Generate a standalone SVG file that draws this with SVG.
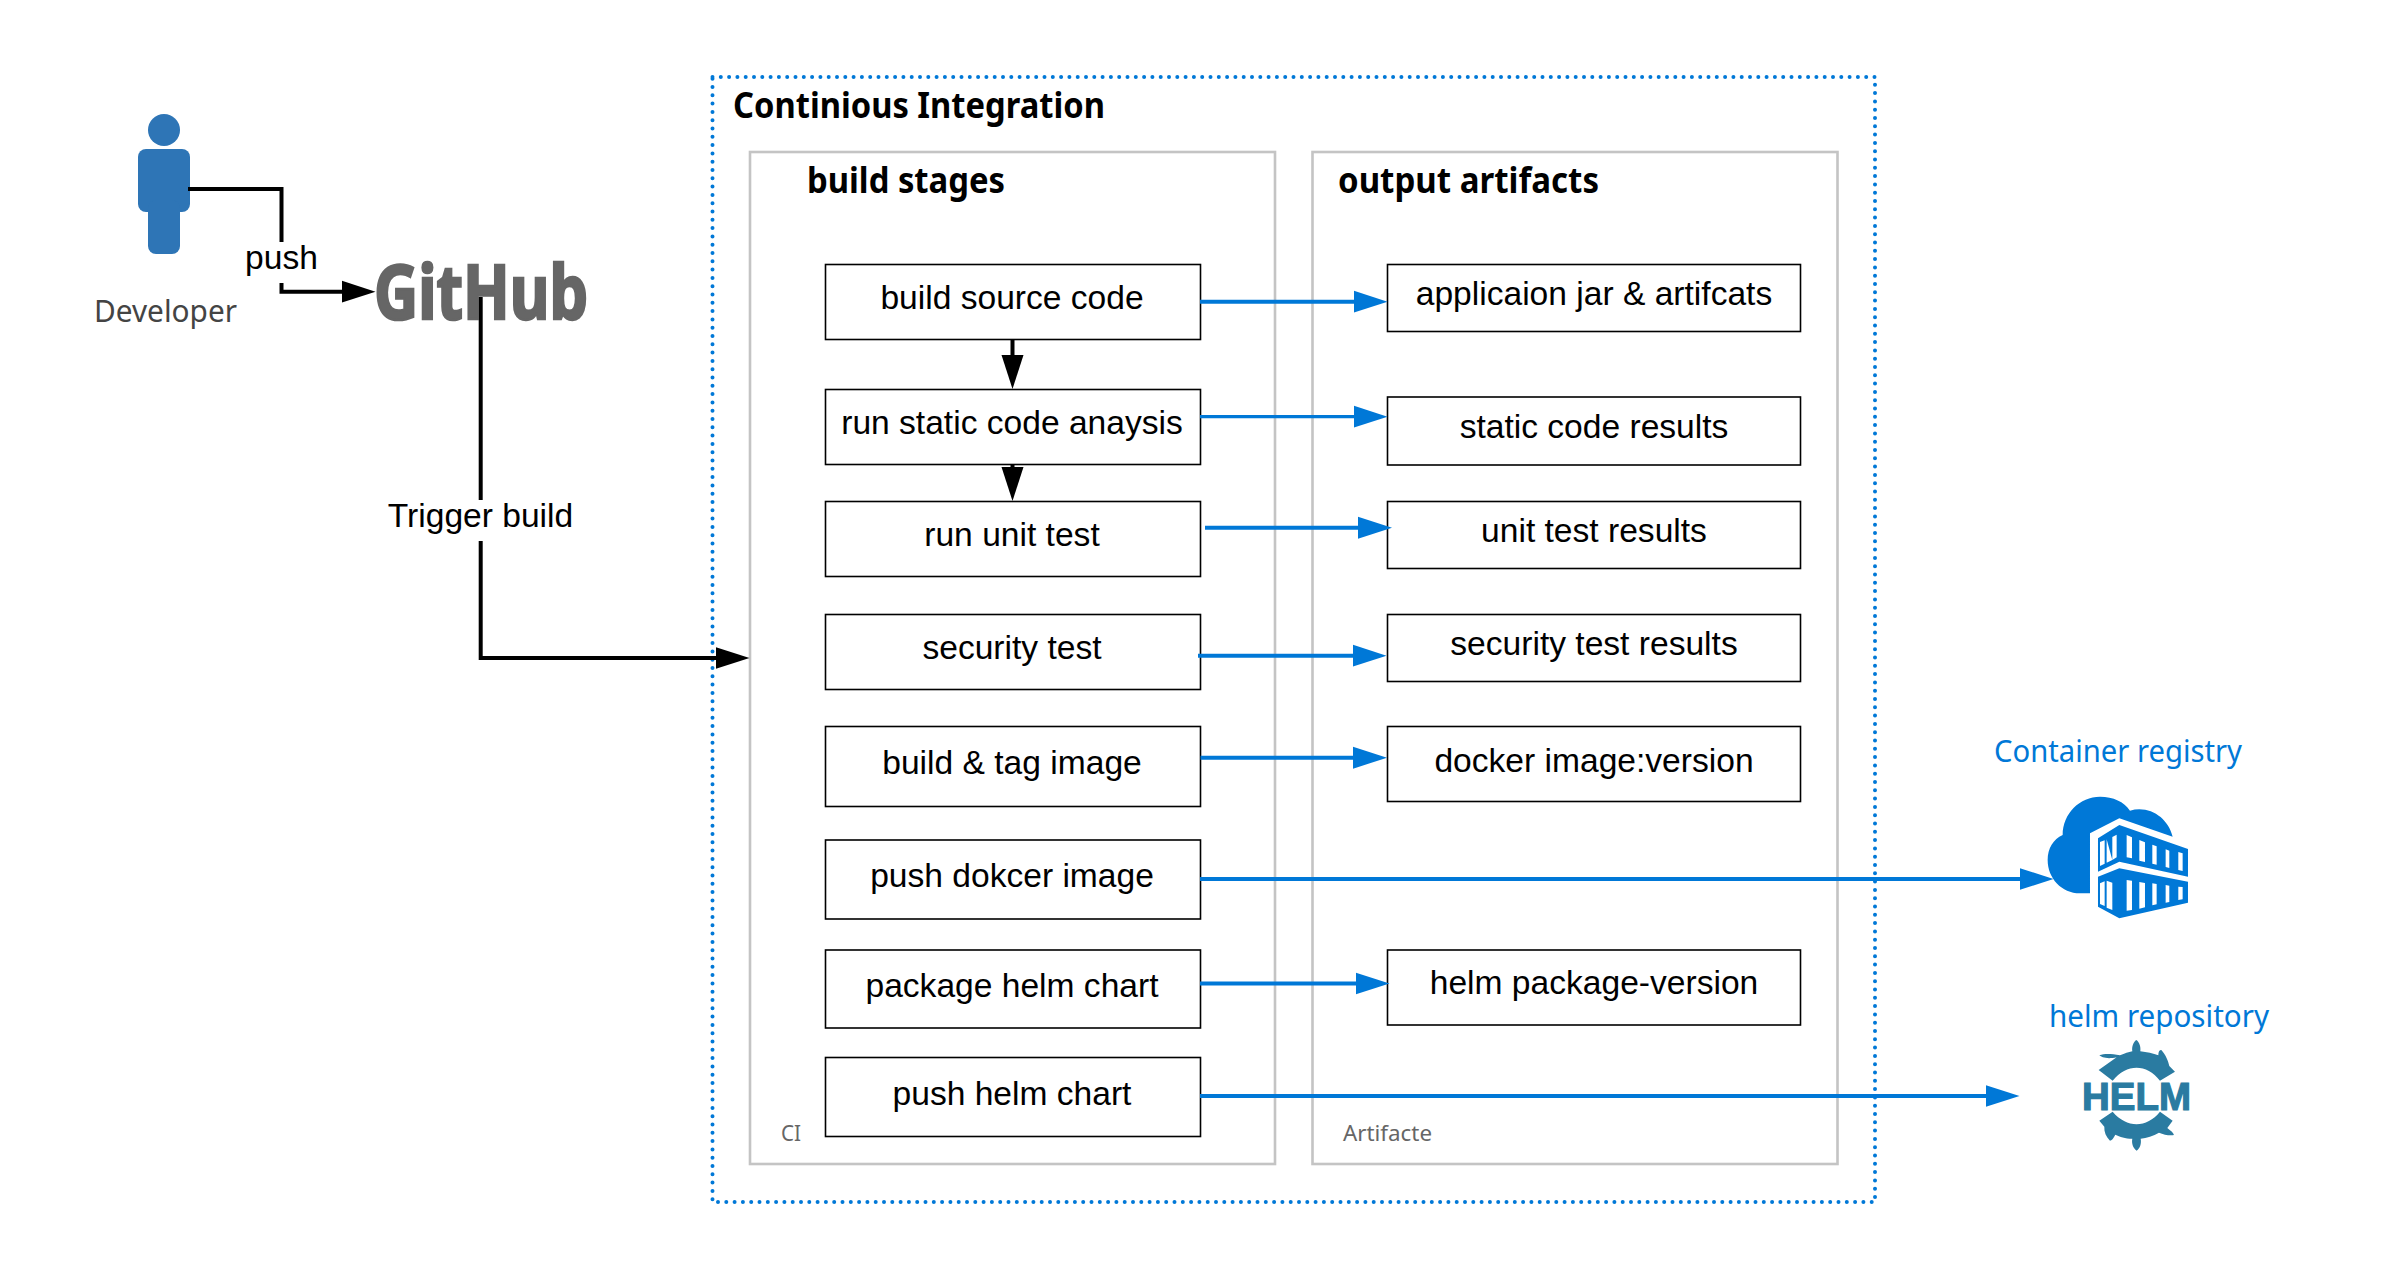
<svg xmlns="http://www.w3.org/2000/svg" width="2406" height="1279" viewBox="0 0 2406 1279">
<style>
.box{fill:#fff;stroke:#000;stroke-width:1.600}
.panel{fill:#fff;stroke:#c4c4c4;stroke-width:2.600}
.n{font-family:"Liberation Sans",Arial,sans-serif;font-size:33.600px;fill:#000;text-anchor:middle}
.h{font-family:"Noto Sans",sans-serif;font-weight:700;font-size:35px;fill:#000}
.s{font-family:"Noto Sans",sans-serif;font-size:30px}
.t{font-family:"Noto Sans",sans-serif;font-size:21px;fill:#666}
.k{fill:none;stroke:#000;stroke-width:4}
.b{fill:none;stroke:#0078d7;stroke-width:4}
.az{fill:#0078d7}
.hm{fill:#2a7ba1}
</style>
<defs>
<marker id="ak" markerUnits="userSpaceOnUse" markerWidth="35" markerHeight="24" refX="24" refY="12" orient="auto"><path d="M0 1L34 12L0 23Z" fill="#000"/></marker>
<marker id="ab" markerUnits="userSpaceOnUse" markerWidth="35" markerHeight="24" refX="24" refY="12" orient="auto"><path d="M0 1L34 12L0 23Z" fill="#0078d7"/></marker>
</defs>
<rect id="ci-boundary" x="712.500" y="77" width="1162.500" height="1125" fill="none" stroke="#0078d7" stroke-width="4" stroke-linecap="round" stroke-dasharray="0 8.300"/>
<g id="ci-title"><text class="h" x="733" y="118" textLength="372" lengthAdjust="spacingAndGlyphs">Continious Integration</text></g>
<g id="panel-ci"><rect class="panel" x="750" y="152" width="525" height="1012"/>
<text class="h" x="807" y="193" textLength="198" lengthAdjust="spacingAndGlyphs">build stages</text>
<text class="t" x="781" y="1141" textLength="20" lengthAdjust="spacingAndGlyphs">CI</text></g>
<g id="panel-artifacts"><rect class="panel" x="1312.500" y="152" width="525" height="1012"/>
<text class="h" x="1338" y="193" textLength="261" lengthAdjust="spacingAndGlyphs">output artifacts</text>
<text class="t" x="1343" y="1141" textLength="89" lengthAdjust="spacingAndGlyphs">Artifacte</text></g>

<g id="developer">
<ellipse cx="164" cy="130" rx="16" ry="16" fill="#2e75b6"/>
<rect x="138" y="149" width="52" height="63" rx="8" fill="#2e75b6"/>
<rect x="148" y="200" width="32" height="54" rx="8" fill="#2e75b6"/>
<text class="s" x="94" y="322" fill="#444" textLength="143" lengthAdjust="spacingAndGlyphs">Developer</text>
</g>
<g id="github"><text x="374" y="319" font-family="'Noto Sans',sans-serif" font-weight="700" font-size="75" fill="#666" stroke="#666" stroke-width="2.500" textLength="214" lengthAdjust="spacingAndGlyphs">GitHub</text></g>

<g id="s1"><rect class="box" x="825.500" y="264.500" width="375" height="75"/><text class="n" x="1012" y="308.500">build source code</text></g>
<g id="s2"><rect class="box" x="825.500" y="389.500" width="375" height="75"/><text class="n" x="1012" y="433.500">run static code anaysis</text></g>
<g id="s3"><rect class="box" x="825.500" y="501.500" width="375" height="75"/><text class="n" x="1012" y="546">run unit test</text></g>
<g id="s4"><rect class="box" x="825.500" y="614.500" width="375" height="75"/><text class="n" x="1012" y="659">security test</text></g>
<g id="s5"><rect class="box" x="825.500" y="726.500" width="375" height="80"/><text class="n" x="1012" y="774">build &amp; tag image</text></g>
<g id="s6"><rect class="box" x="825.500" y="840" width="375" height="79"/><text class="n" x="1012" y="886.500">push dokcer image</text></g>
<g id="s7"><rect class="box" x="825.500" y="950" width="375" height="78"/><text class="n" x="1012" y="996.500">package helm chart</text></g>
<g id="s8"><rect class="box" x="825.500" y="1057.500" width="375" height="79"/><text class="n" x="1012" y="1104.500">push helm chart</text></g>

<g id="a1"><rect class="box" x="1387.500" y="264.500" width="413" height="67"/><text class="n" x="1594" y="305">applicaion jar &amp; artifcats</text></g>
<g id="a2"><rect class="box" x="1387.500" y="397" width="413" height="68"/><text class="n" x="1594" y="437.500">static code results</text></g>
<g id="a3"><rect class="box" x="1387.500" y="501.500" width="413" height="67"/><text class="n" x="1594" y="542">unit test results</text></g>
<g id="a4"><rect class="box" x="1387.500" y="614.500" width="413" height="67"/><text class="n" x="1594" y="654.500">security test results</text></g>
<g id="a5"><rect class="box" x="1387.500" y="726.500" width="413" height="75"/><text class="n" x="1594" y="772">docker image:version</text></g>
<g id="a6"><rect class="box" x="1387.500" y="950" width="413" height="75"/><text class="n" x="1594" y="993.500">helm package-version</text></g>

<g id="container-registry">
<text class="s" x="1994" y="762" fill="#0078d7" textLength="248" lengthAdjust="spacingAndGlyphs">Container registry</text>
<g transform="translate(1960 720) scale(.3333)">
<path class="az" d="M390 520H360C305 520 263 475 263 420C263 385 280 358 308 345C308 280 360 230 420 230C460 230 492 245 510 272C570 255 625 295 638 350L478 295L390 340Z"/>
<path class="az" fill-rule="evenodd" d="M414 355L478 315L684 387V470L478 425L414 455ZM420 366V438L434 431V361ZM440 358V428L457 420V351L470 344V412L457 420ZM500 345V412L516 415V352ZM538 360V422L555 426V367ZM577 374V431L590 434V379ZM617 388V441L628 444V392ZM655 396V450L668 453V400Z"/>
<path class="az" fill-rule="evenodd" d="M414 470L478 445L684 485V548L478 595L414 560ZM420 490V552L434 558V484ZM440 482V563L457 570V488ZM500 480V572L516 570V482ZM538 486V566L555 562V489ZM577 490V556L590 553V492ZM617 495V548L628 546V497ZM655 500V540L668 538V501Z"/>
</g></g>
<g id="helm-repository">
<text class="s" x="2049" y="1027" fill="#0078d7" textLength="220" lengthAdjust="spacingAndGlyphs">helm repository</text>
<g transform="translate(1960 980) scale(.3333)">
<path class="hm" d="M416 270L470 232C440 238 425 232 418 226C435 220 455 222 480 226C495 220 505 216 517 214C515 200 520 186 529 180C538 186 543 200 541 214C560 216 580 220 595 226C595 215 598 210 604 210C618 225 625 245 628 258L645 275L600 302C560 250 500 250 458 302Z"/>
<path class="hm" d="M418 422L458 395C500 445 560 445 600 395L638 422L622 444C632 452 640 458 642 465C630 468 612 464 597 458C580 468 560 474 542 476C545 490 540 505 530 512C520 505 514 490 517 476C495 476 480 470 466 464C460 475 455 482 450 482C438 470 432 455 433 440Z"/>
</g>
<text x="2082" y="1110" font-family="'Liberation Sans',Arial,sans-serif" font-weight="700" font-size="39" fill="#2a7ba1" stroke="#2a7ba1" stroke-width="1.200" textLength="109" lengthAdjust="spacingAndGlyphs">HELM</text>
</g>

<g id="connectors">
<path class="k" d="M188 189H281.500V291.700H365.500" marker-end="url(#ak)"/>
<path class="k" d="M480.700 297V658H739.500" marker-end="url(#ak)"/>
<path class="k" d="M1012.500 339.500V379" marker-end="url(#ak)"/>
<path class="k" d="M1012.500 465V491" marker-end="url(#ak)"/>
<path class="b" d="M1200 301.700H1377.500" marker-end="url(#ab)"/>
<path class="b" style="stroke-width:3.200" d="M1200 416.700H1377.500" marker-end="url(#ab)"/>
<path class="b" d="M1205 527.700H1382" marker-end="url(#ab)"/>
<path class="b" d="M1198 655.700H1376.500" marker-end="url(#ab)"/>
<path class="b" d="M1200.500 757.700H1377" marker-end="url(#ab)"/>
<path class="b" d="M1200 879H2043.500" marker-end="url(#ab)"/>
<path class="b" d="M1200 983.500H1379.500" marker-end="url(#ab)"/>
<path class="b" d="M1200 1096H2009.500" marker-end="url(#ab)"/>
<g id="edge-push"><rect x="243" y="242" width="78" height="41" fill="#fff"/><text class="n" x="281.500" y="269">push</text></g>
<g id="edge-trigger"><rect x="385" y="500" width="192" height="41" fill="#fff"/><text class="n" x="480.500" y="527">Trigger build</text></g>
</g>
</svg>
